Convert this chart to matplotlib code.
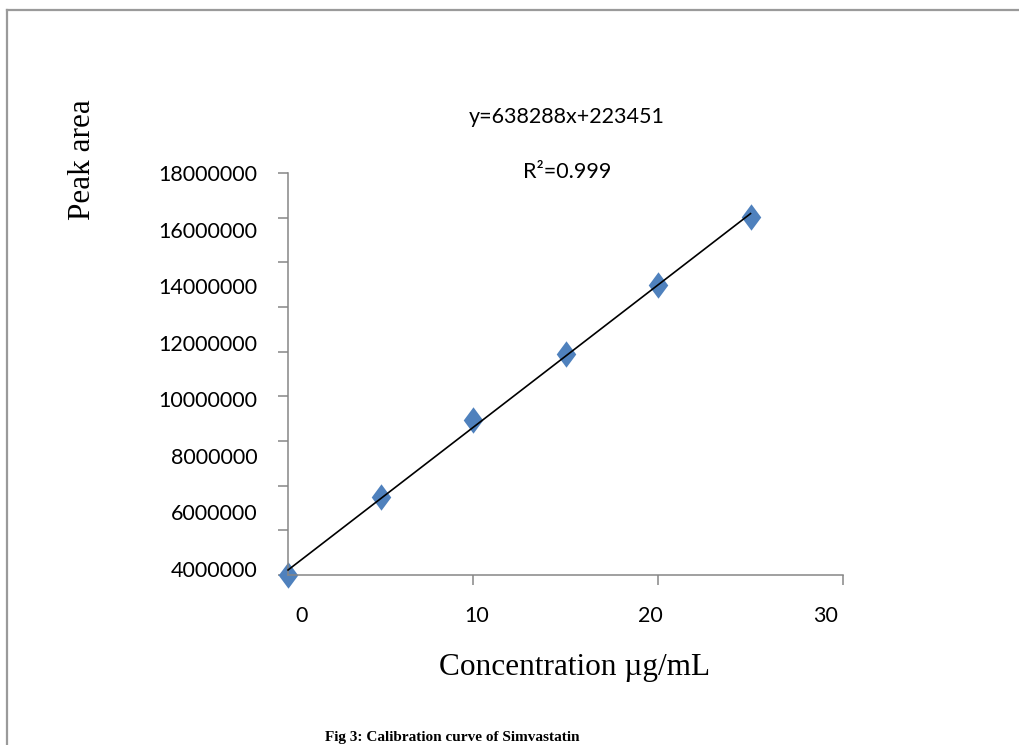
import numpy as np
import matplotlib
matplotlib.use("Agg")
import matplotlib.pyplot as plt
from matplotlib.path import Path
from matplotlib.lines import Line2D

# data
conc = [0, 5, 10, 15, 20, 25]
peak_area = [0, 3490000, 6940000, 9900000, 12990000, 16030000]

# trendline as printed on the chart
slope = 638288
intercept = 223451
fit_x = [0, 25]

y_ticks = list(range(0, 18000001, 2000000))
y_labels = [4000000, 6000000, 8000000, 10000000, 12000000, 14000000, 16000000, 18000000]
x_ticks = [0, 10, 20, 30]

AXIS_GREY = "#868686"
BLUE = "#4F81BD"
SANS = "Lato"
SERIF = "Liberation Serif"

fig = plt.figure(figsize=(10.2, 7.45), dpi=100)
ax = fig.add_axes([0.2824, 0.2282, 0.5441, 0.5396])

diamond = Path([(-0.74, 0), (0, 1), (0.74, 0), (0, -1), (-0.74, 0)],
               [Path.MOVETO, Path.LINETO, Path.LINETO, Path.LINETO, Path.CLOSEPOLY])

fit_y = [slope * x + intercept for x in fit_x]
ax.plot(fit_x, fit_y, color="black", lw=1.2, zorder=3, clip_on=False)
ax.plot(conc, peak_area, linestyle="none", marker=diamond, markersize=19,
        color=BLUE, markeredgewidth=0, zorder=2, clip_on=False)

ax.set_xlim(0, 30)
ax.set_ylim(0, 18000000)
ax.set_xticks(x_ticks)
ax.set_yticks(y_ticks)
ax.tick_params(axis="both", direction="out", length=7, width=1.1,
               color=AXIS_GREY, labelleft=False, labelbottom=False)
for side in ("top", "right"):
    ax.spines[side].set_visible(False)
for side in ("left", "bottom"):
    ax.spines[side].set_color(AXIS_GREY)
    ax.spines[side].set_linewidth(1.1)

# tick labels in the reference sit off the tick marks, so they get their own axes
y0, y1 = 270000, 17990000
sy = ax.secondary_yaxis(
    "left",
    functions=(lambda v: 4e6 + (v - y0) * 14e6 / (y1 - y0),
               lambda s: y0 + (s - 4e6) * (y1 - y0) / 14e6))
sy.set_yticks(y_labels)
sy.set_yticklabels([str(v) for v in y_labels])
sy.tick_params(length=0, pad=22, labelsize=15.5)
sy.spines["left"].set_visible(False)
for t in sy.get_yticklabels():
    t.set_fontfamily(SANS)

x0, x1 = 0.757, 29.03
sx = ax.secondary_xaxis(
    "bottom",
    functions=(lambda v: (v - x0) * 30 / (x1 - x0),
               lambda s: x0 + s * (x1 - x0) / 30))
sx.set_xticks(x_ticks)
sx.set_xticklabels([str(v) for v in x_ticks])
sx.tick_params(length=0, pad=22, labelsize=15.5)
sx.spines["bottom"].set_visible(False)
for t in sx.get_xticklabels():
    t.set_fontfamily(SANS)

fig.text(567 / 1020, 1 - 117 / 745, f"y={slope}x+{intercept}", ha="center",
         va="center", fontsize=15.5, family=SANS)
fig.text(567 / 1020, 1 - 172 / 745, "R²=0.999", ha="center", va="center",
         fontsize=15.5, family=SANS)

fig.text(82 / 1020, 1 - 160 / 745, "Peak area", rotation=90, ha="center",
         va="center", fontsize=22.5, family=SERIF)
fig.text(575 / 1020, 1 - 668 / 745, "Concentration µg/mL", ha="center",
         va="center", fontsize=22.5, family=SERIF)
fig.text(452 / 1020, 1 - 738 / 745, "Fig 3: Calibration curve of Simvastatin",
         ha="center", va="center", fontsize=11, family=SERIF, fontweight="bold")

# grey frame around the figure (top and left edges only are visible)
fig.add_artist(Line2D([7 / 1020, 1.0], [1 - 10 / 745, 1 - 10 / 745],
                      transform=fig.transFigure, color="#9a9a9a", lw=1.6))
fig.add_artist(Line2D([7 / 1020, 7 / 1020], [0.0, 1 - 10 / 745],
                      transform=fig.transFigure, color="#9a9a9a", lw=1.6))

fig.savefig("out.png", dpi=100)
